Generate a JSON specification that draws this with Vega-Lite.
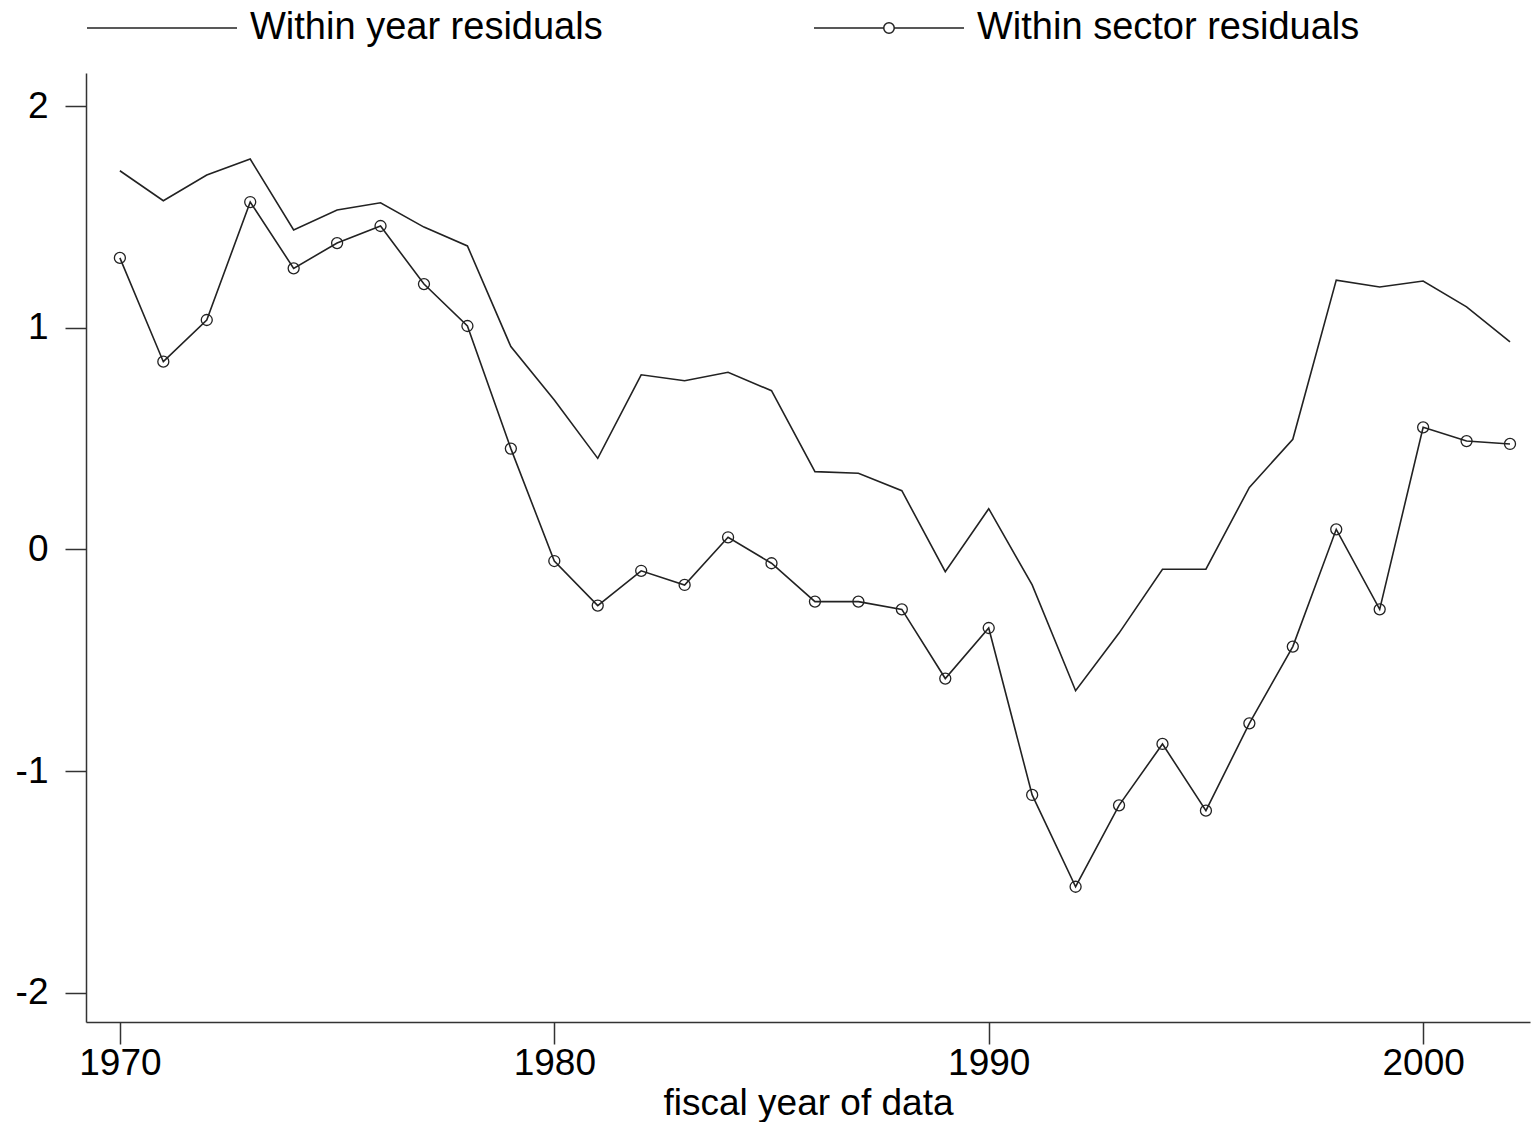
{
  "$schema": "https://vega.github.io/schema/vega-lite/v6.json",
  "width": 1444,
  "height": 949,
  "autosize": {"type": "none"},
  "padding": {"left": 86, "top": 73, "right": 2, "bottom": 100},
  "background": "white",
  "config": {
    "view": {"stroke": null},
    "font": "Liberation Sans",
    "axis": {
      "labelFont": "Liberation Sans",
      "labelFontSize": 37,
      "labelColor": "#000000",
      "titleFont": "Liberation Sans",
      "titleFontSize": 37,
      "titleFontWeight": "normal",
      "titleColor": "#000000",
      "domainColor": "#333333",
      "domainWidth": 1.5,
      "tickColor": "#333333",
      "tickWidth": 1.5,
      "grid": false,
      "labelFlush": false,
      "labelOverlap": false
    },
    "legend": {
      "labelFont": "Liberation Sans",
      "labelFontSize": 38,
      "labelColor": "#000000",
      "labelLimit": 1000
    }
  },
  "data": {
    "values": [
      {"year": 1970, "series": "Within year residuals", "value": 1.708},
      {"year": 1971, "series": "Within year residuals", "value": 1.573},
      {"year": 1972, "series": "Within year residuals", "value": 1.689},
      {"year": 1973, "series": "Within year residuals", "value": 1.761},
      {"year": 1974, "series": "Within year residuals", "value": 1.441},
      {"year": 1975, "series": "Within year residuals", "value": 1.531},
      {"year": 1976, "series": "Within year residuals", "value": 1.564},
      {"year": 1977, "series": "Within year residuals", "value": 1.454},
      {"year": 1978, "series": "Within year residuals", "value": 1.369},
      {"year": 1979, "series": "Within year residuals", "value": 0.915},
      {"year": 1980, "series": "Within year residuals", "value": 0.674},
      {"year": 1981, "series": "Within year residuals", "value": 0.411},
      {"year": 1982, "series": "Within year residuals", "value": 0.788},
      {"year": 1983, "series": "Within year residuals", "value": 0.761},
      {"year": 1984, "series": "Within year residuals", "value": 0.799},
      {"year": 1985, "series": "Within year residuals", "value": 0.716},
      {"year": 1986, "series": "Within year residuals", "value": 0.351},
      {"year": 1987, "series": "Within year residuals", "value": 0.344},
      {"year": 1988, "series": "Within year residuals", "value": 0.265},
      {"year": 1989, "series": "Within year residuals", "value": -0.100},
      {"year": 1990, "series": "Within year residuals", "value": 0.184},
      {"year": 1991, "series": "Within year residuals", "value": -0.160},
      {"year": 1992, "series": "Within year residuals", "value": -0.637},
      {"year": 1993, "series": "Within year residuals", "value": -0.377},
      {"year": 1994, "series": "Within year residuals", "value": -0.089},
      {"year": 1995, "series": "Within year residuals", "value": -0.089},
      {"year": 1996, "series": "Within year residuals", "value": 0.280},
      {"year": 1997, "series": "Within year residuals", "value": 0.497},
      {"year": 1998, "series": "Within year residuals", "value": 1.215},
      {"year": 1999, "series": "Within year residuals", "value": 1.184},
      {"year": 2000, "series": "Within year residuals", "value": 1.211},
      {"year": 2001, "series": "Within year residuals", "value": 1.094},
      {"year": 2002, "series": "Within year residuals", "value": 0.936},
      {"year": 1970, "series": "Within sector residuals", "value": 1.315},
      {"year": 1971, "series": "Within sector residuals", "value": 0.847},
      {"year": 1972, "series": "Within sector residuals", "value": 1.035},
      {"year": 1973, "series": "Within sector residuals", "value": 1.567},
      {"year": 1974, "series": "Within sector residuals", "value": 1.268},
      {"year": 1975, "series": "Within sector residuals", "value": 1.382},
      {"year": 1976, "series": "Within sector residuals", "value": 1.459},
      {"year": 1977, "series": "Within sector residuals", "value": 1.197},
      {"year": 1978, "series": "Within sector residuals", "value": 1.008},
      {"year": 1979, "series": "Within sector residuals", "value": 0.455},
      {"year": 1980, "series": "Within sector residuals", "value": -0.052},
      {"year": 1981, "series": "Within sector residuals", "value": -0.253},
      {"year": 1982, "series": "Within sector residuals", "value": -0.096},
      {"year": 1983, "series": "Within sector residuals", "value": -0.160},
      {"year": 1984, "series": "Within sector residuals", "value": 0.055},
      {"year": 1985, "series": "Within sector residuals", "value": -0.062},
      {"year": 1986, "series": "Within sector residuals", "value": -0.235},
      {"year": 1987, "series": "Within sector residuals", "value": -0.235},
      {"year": 1988, "series": "Within sector residuals", "value": -0.270},
      {"year": 1989, "series": "Within sector residuals", "value": -0.582},
      {"year": 1990, "series": "Within sector residuals", "value": -0.354},
      {"year": 1991, "series": "Within sector residuals", "value": -1.107},
      {"year": 1992, "series": "Within sector residuals", "value": -1.521},
      {"year": 1993, "series": "Within sector residuals", "value": -1.154},
      {"year": 1994, "series": "Within sector residuals", "value": -0.877},
      {"year": 1995, "series": "Within sector residuals", "value": -1.178},
      {"year": 1996, "series": "Within sector residuals", "value": -0.784},
      {"year": 1997, "series": "Within sector residuals", "value": -0.438},
      {"year": 1998, "series": "Within sector residuals", "value": 0.091},
      {"year": 1999, "series": "Within sector residuals", "value": -0.270},
      {"year": 2000, "series": "Within sector residuals", "value": 0.551},
      {"year": 2001, "series": "Within sector residuals", "value": 0.489},
      {"year": 2002, "series": "Within sector residuals", "value": 0.476}
    ]
  },
  "encoding": {
    "x": {
      "field": "year",
      "type": "quantitative",
      "scale": {"domain": [1969.22, 2002.46], "nice": false, "zero": false},
      "axis": {
        "values": [1970, 1980, 1990, 2000],
        "format": "d",
        "tickSize": 22,
        "labelPadding": 1,
        "title": "fiscal year of data",
        "titlePadding": 4
      }
    },
    "y": {
      "field": "value",
      "type": "quantitative",
      "scale": {"domain": [-2.131, 2.149], "nice": false, "zero": false},
      "axis": {
        "values": [-2, -1, 0, 1, 2],
        "labelExpr": "'' + datum.value",
        "tickSize": 21,
        "labelPadding": 17,
        "title": null
      }
    }
  },
  "layer": [
    {
      "mark": {"type": "line", "color": "#222222", "strokeWidth": 1.6},
      "encoding": {
        "detail": {"field": "series", "type": "nominal"}
      }
    },
    {
      "transform": [{"filter": "datum.series === 'Within sector residuals'"}],
      "mark": {"type": "point", "shape": "circle", "filled": false, "size": 121, "color": "#222222", "strokeWidth": 1.3, "opacity": 1}
    },
    {
      "transform": [{"filter": "datum.year < 0"}],
      "mark": {"type": "point", "filled": false, "color": "#222222", "strokeWidth": 1.5, "opacity": 1},
      "encoding": {
        "shape": {
          "field": "series",
          "type": "nominal",
          "scale": {
            "domain": ["Within year residuals", "Within sector residuals"],
            "range": ["M-1,0H1", "M-1,0H-0.07M0.07,0H1M-0.07,0A0.07,0.07,0,1,1,0.07,0A0.07,0.07,0,1,1,-0.07,0"]
          },
          "legend": {
            "title": null,
            "orient": "none",
            "direction": "horizontal",
            "legendX": 0,
            "legendY": -121,
            "padding": 0,
            "symbolSize": 22500,
            "symbolStrokeWidth": 1.5,
            "symbolStrokeColor": "#222222",
            "symbolFillColor": "transparent",
            "symbolOpacity": 1,
            "labelOffset": 12,
            "columnPadding": 208
          }
        }
      }
    }
  ]
}
